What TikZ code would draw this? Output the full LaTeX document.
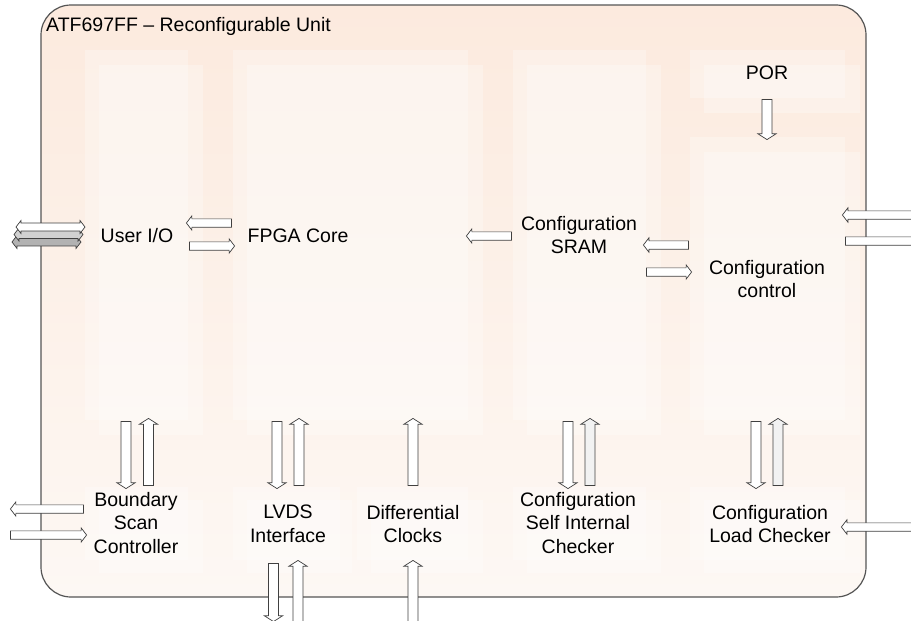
\documentclass[tikz,border=0pt]{standalone}
\usepackage{fontspec}
\setmainfont{Liberation Sans}
\usepackage{xcolor}
\usetikzlibrary{shapes.arrows}

\definecolor{peachtop}{RGB}{252,234,222}
\definecolor{peachbot}{RGB}{253,248,244}
\definecolor{rim}{RGB}{85,85,85}

\tikzset{
  lbl/.style={align=center, inner sep=0pt, font=\fontsize{19.5}{23.5}\selectfont},
  blk/.style={fill=white, opacity=0.28},
  harrow/.style={single arrow, draw=black!75, fill=white, line width=0.7pt,
    inner xsep=0pt, inner ysep=3.8pt, single arrow head extend=3pt, single arrow tip angle=105},
  varrow/.style={single arrow, draw=black!75, fill=white, line width=0.7pt,
    inner xsep=4.6pt, inner ysep=0pt, single arrow head extend=4.3pt, single arrow tip angle=115},
  darrow/.style={double arrow, draw=black!75, line width=0.7pt, minimum height=69,
    inner xsep=0pt, inner ysep=3.6pt, double arrow head extend=2.5pt, double arrow tip angle=105}
}

\begin{document}
\begin{tikzpicture}[x=1pt, y=-1pt]
\useasboundingbox (0,0) rectangle (911,621);

% unit outline
\draw[rim, line width=1.2pt, rounded corners=30, top color=peachtop, bottom color=peachbot]
  (41,5) rectangle (866,597);

% faint blocks
\fill[blk] (85,50) rectangle (188,420);
\fill[blk] (99,65) rectangle (203,435);
\fill[blk] (233,50) rectangle (468,420);
\fill[blk] (247,65) rectangle (483,435);
\fill[blk] (513,50) rectangle (646,420);
\fill[blk] (527,65) rectangle (661,435);
\fill[blk] (690,50) rectangle (845,98);
\fill[blk] (704,65) rectangle (860,113);
\fill[blk] (690,137) rectangle (845,420);
\fill[blk] (704,152) rectangle (860,435);

\fill[blk] (85,487) rectangle (188,560);
\fill[blk] (99,500) rectangle (203,573);
\fill[blk] (233,487) rectangle (340,560);
\fill[blk] (247,500) rectangle (352,573);
\fill[blk] (357,487) rectangle (468,560);
\fill[blk] (371,500) rectangle (483,573);
\fill[blk] (513,487) rectangle (646,560);
\fill[blk] (527,500) rectangle (661,573);
\fill[blk] (690,487) rectangle (845,560);
\fill[blk] (704,500) rectangle (860,573);

% labels
\node[lbl, anchor=west] (title) at (46,26) {ATF697FF – Reconfigurable Unit};
\node[lbl] (io) at (137,236) {User I/O};
\node[lbl] (core) at (298,236) {FPGA Core};
\node[lbl] (sram) at (579,235) {Configuration\\SRAM};
\node[lbl] (por) at (767,73) {POR};
\node[lbl] (ctl) at (767,279) {Configuration\\control};
\node[lbl] (bsc) at (136,523) {Boundary\\Scan\\Controller};
\node[lbl] (lvds) at (288,524) {LVDS\\Interface};
\node[lbl] (diff) at (413,524) {Differential\\Clocks};
\node[lbl] (scic) at (578,523) {Configuration\\Self Internal\\Checker};
\node[lbl] (clc) at (770,524) {Configuration\\Load Checker};

% user i/o bus
\node[darrow, fill=black!30] (bus3) at (46.5,242) {};
\node[darrow, fill=black!18] (bus2) at (48.5,234.5) {};
\node[darrow, fill=white] (bus1) at (50.5,227) {};

% horizontal arrows
\node[harrow, minimum height=45, shape border rotate=180] (core2io) at (210.5,223) {};
\node[harrow, minimum height=45] (io2core) at (210.5,246) {};
\node[harrow, minimum height=45, shape border rotate=180] (sram2core) at (490.5,236) {};
\node[harrow, minimum height=45, shape border rotate=180] (ctl2sram) at (667.5,245) {};
\node[harrow, minimum height=45] (sram2ctl) at (667.5,272) {};
\node[harrow, minimum height=80, shape border rotate=180] (ctlin) at (884,215) {};
\node[harrow, minimum height=80] (ctlout) at (884,241) {};
\node[harrow, minimum height=73, shape border rotate=180] (bscout) at (48.5,509) {};
\node[harrow, minimum height=76] (bscin) at (47,535) {};
\node[harrow, minimum height=80, shape border rotate=180] (clcin) at (883,527) {};

% vertical arrows
\node[varrow, minimum height=40, shape border rotate=270] (por2ctl) at (767,118) {};
\node[varrow, minimum height=67, shape border rotate=270] (io2bsc) at (126,453.5) {};
\node[varrow, minimum height=67, shape border rotate=90] (bsc2io) at (148.5,453.5) {};
\node[varrow, minimum height=67, shape border rotate=270] (core2lvds) at (277,453.5) {};
\node[varrow, minimum height=67, shape border rotate=90] (lvds2core) at (299,453.5) {};
\node[varrow, minimum height=67, shape border rotate=90] (diff2core) at (413,453.5) {};
\node[varrow, minimum height=67, shape border rotate=270] (sram2scic) at (568,453.5) {};
\node[varrow, minimum height=67, shape border rotate=90, fill=black!5] (scic2sram) at (590,453.5) {};
\node[varrow, minimum height=67, shape border rotate=270] (ctl2clc) at (756,453.5) {};
\node[varrow, minimum height=67, shape border rotate=90, fill=black!5] (clc2ctl) at (778,453.5) {};
\node[varrow, minimum height=58, shape border rotate=270] (lvdsout) at (273.5,591) {};
\node[varrow, minimum height=62, shape border rotate=90] (lvdsin) at (298,593) {};
\node[varrow, minimum height=62, shape border rotate=90] (clkin) at (413,593) {};
\end{tikzpicture}
\end{document}
